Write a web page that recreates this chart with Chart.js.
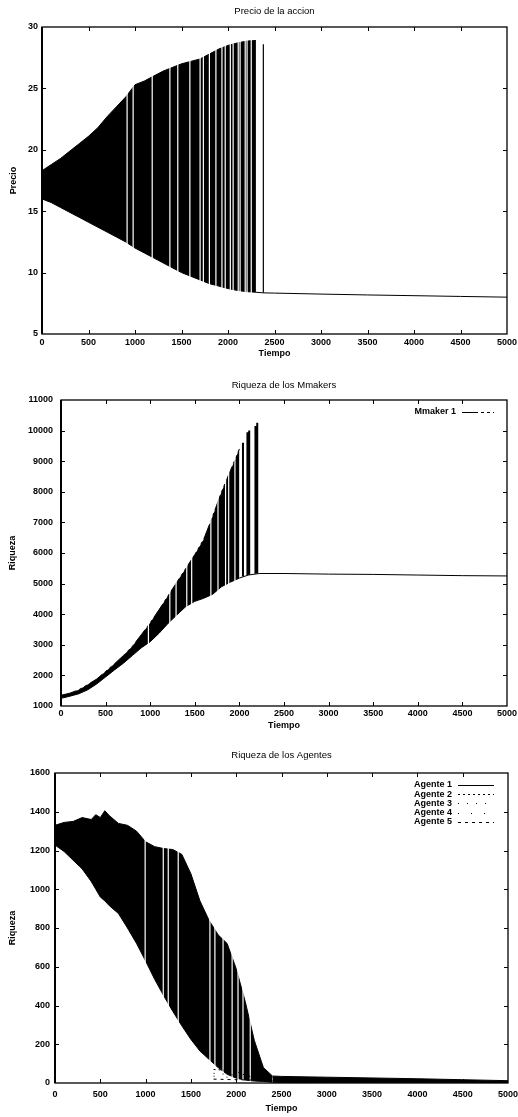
<!DOCTYPE html>
<html>
<head>
<meta charset="utf-8">
<script src="https://cdn.jsdelivr.net/npm/chart.js@4.4.1/dist/chart.umd.min.js"></script>
<style>
  html, body { margin: 0; padding: 0; background: #fff; }
  body { width: 518px; height: 1117px; position: relative; overflow: hidden; }
  canvas { position: absolute; left: 0; }
</style>
</head>
<body>
<canvas id="c1" width="518" height="362" style="top:0px"></canvas>
<canvas id="c2" width="518" height="374" style="top:362px"></canvas>
<canvas id="c3" width="518" height="381" style="top:736px"></canvas>
<script>
// ---- Shared time axis ----
const xTickVals = [0, 500, 1000, 1500, 2000, 2500, 3000, 3500, 4000, 4500, 5000];

// ---- Precio de la accion ----
const yTickVals1 = [5, 10, 15, 20, 25, 30];
const bandT1  = [0, 100, 200, 300, 400, 500, 600, 700, 800, 900, 1000, 1100, 1200, 1300, 1400, 1500, 1600, 1700, 1800, 1900, 2000, 2100, 2200, 2300];
const bandHi1 = [18.3, 18.8, 19.3, 19.9, 20.5, 21.1, 21.8, 22.7, 23.5, 24.3, 25.3, 25.6, 26.0, 26.4, 26.7, 27.0, 27.2, 27.4, 27.8, 28.2, 28.5, 28.7, 28.85, 28.9];
const bandLo1 = [16.0, 15.7, 15.3, 14.9, 14.5, 14.1, 13.7, 13.3, 12.9, 12.5, 12.0, 11.6, 11.2, 10.8, 10.4, 10.0, 9.7, 9.4, 9.1, 8.9, 8.7, 8.55, 8.45, 8.4];
const gapT1   = [915, 980, 1185, 1375, 1460, 1590, 1700, 1735, 1800, 1870, 1935, 1970, 2025, 2055, 2110, 2130, 2185, 2205, 2250];
const spikeT1  = [2380];
const spikeLo1 = [8.35];
const spikeHi1 = [28.6];
const tailT1  = [2300, 2380, 2500, 3000, 3500, 4000, 4500, 5000];
const tailV1  = [8.4, 8.35, 8.33, 8.25, 8.18, 8.12, 8.06, 8.0];

// ---- Riqueza de los Mmakers ----
const yTickVals2 = [1000, 2000, 3000, 4000, 5000, 6000, 7000, 8000, 9000, 10000, 11000];
const bandT2  = [0, 100, 200, 300, 400, 500, 600, 700, 800, 900, 1000, 1100, 1200, 1300, 1400, 1500, 1600, 1700, 1800, 1900, 2000];
const bandLo2 = [1250, 1320, 1400, 1530, 1720, 1950, 2180, 2400, 2650, 2900, 3100, 3380, 3700, 3980, 4250, 4420, 4520, 4650, 4900, 5050, 5180];
const bandHi2 = [1350, 1420, 1530, 1700, 1880, 2130, 2380, 2650, 2950, 3330, 3720, 4150, 4600, 5050, 5500, 5950, 6450, 7200, 8000, 8700, 9400];
const gapT2   = [980, 1220, 1290, 1410, 1465, 1680, 1760, 1845, 1880, 1950];
const spikeT2  = [2040, 2090, 2110, 2180, 2200];
const spikeLo2 = [5230, 5270, 5290, 5320, 5330];
const spikeHi2 = [9600, 9950, 10000, 10150, 10260];
const tailT2  = [2000, 2100, 2200, 2230, 2500, 3000, 3500, 4000, 4500, 5000];
const tailV2  = [5180, 5280, 5320, 5330, 5330, 5310, 5300, 5280, 5260, 5250];

// ---- Riqueza de los Agentes ----
const yTickVals3 = [0, 200, 400, 600, 800, 1000, 1200, 1400, 1600];
const bandT3  = [0, 100, 200, 300, 400, 450, 500, 550, 600, 700, 800, 900, 1000, 1100, 1200, 1300, 1400, 1500, 1600, 1700, 1800, 1900, 2000, 2100, 2200, 2300, 2400];
const bandHi3 = [1330, 1345, 1350, 1370, 1360, 1385, 1370, 1405, 1380, 1340, 1330, 1300, 1245, 1220, 1210, 1205, 1180, 1080, 940, 840, 765, 720, 590, 420, 220, 80, 36];
const bandLo3 = [1228, 1195, 1150, 1105, 1040, 1000, 960, 940, 915, 875, 800, 720, 630, 535, 450, 370, 295, 225, 165, 122, 80, 45, 25, 15, 10, 8, 4];
const gapT3   = [995, 1195, 1250, 1360, 1710, 1765, 1855, 1955, 2020, 2075, 2155];
// Agente 1 after the collapse: a thin band close to zero
const tail1T3  = [2400, 2500, 3000, 3500, 4000, 4500, 5000];
const tail1Hi3 = [36, 34, 30, 26, 22, 17, 12];
const tail1Lo3 = [4, 3, 2, 2, 1, 1, 0];
// remaining agents, low wealth from the late phase on
const tailT3  = [1750, 1900, 2000, 2100, 2200, 2300, 2400, 3000, 4000, 5000];
const agente2 = [70, 65, 60, 40, 35, 30, 28, 22, 15, 8];
const agente3 = [50, 45, 40, 35, 30, 25, 22, 18, 12, 6];
const agente4 = [35, 30, 28, 25, 22, 20, 18, 14, 9, 5];
const agente5 = [20, 18, 17, 16, 15, 14, 13, 10, 6, 3];

// ---- helpers ----
const FONT = 'Liberation Sans, Arial, Helvetica, sans-serif';
const pts = (ts, vs) => ts.map((t, i) => ({ x: t, y: vs[i] }));
// vertical segments, one per time, separated by breaks
function sticks(ts, lo, hi) {
  const out = [];
  ts.forEach((t, i) => {
    out.push({ x: t, y: Array.isArray(lo) ? lo[i] : lo },
             { x: t, y: Array.isArray(hi) ? hi[i] : hi },
             { x: t, y: null });
  });
  return out;
}
const lineDs = (extra) => Object.assign({
  type: 'line', borderColor: '#000', backgroundColor: '#000', borderWidth: 1,
  pointRadius: 0, tension: 0, fill: false, spanGaps: false
}, extra);

// inward tick marks on all four sides plus the plot frame
const framePlugin = {
  id: 'frame',
  afterDatasetsDraw(chart) {
    const { ctx, chartArea: a, scales: { x, y } } = chart;
    const L = 4;
    ctx.save();
    ctx.strokeStyle = '#000';
    ctx.lineWidth = 1;
    ctx.beginPath();
    x.ticks.forEach(t => {
      const px = Math.round(x.getPixelForValue(t.value)) + 0.5;
      if (px <= a.left + 1 || px >= a.right - 1) return;
      ctx.moveTo(px, a.bottom); ctx.lineTo(px, a.bottom - L);
      ctx.moveTo(px, a.top); ctx.lineTo(px, a.top + L);
    });
    y.ticks.forEach(t => {
      const py = Math.round(y.getPixelForValue(t.value)) + 0.5;
      if (py <= a.top + 1 || py >= a.bottom - 1) return;
      ctx.moveTo(a.left, py); ctx.lineTo(a.left + L, py);
      ctx.moveTo(a.right, py); ctx.lineTo(a.right - L, py);
    });
    ctx.stroke();
    ctx.lineWidth = 1.3;
    ctx.strokeRect(a.left, a.top, a.right - a.left, a.bottom - a.top);
    ctx.lineWidth = 2;
    ctx.beginPath();
    ctx.moveTo(a.left, a.top); ctx.lineTo(a.left, a.bottom);
    ctx.stroke();
    ctx.restore();
  }
};

// title centred over the plot area
const panelTitlePlugin = {
  id: 'panelTitle',
  afterDraw(chart, args, opts) {
    const { ctx, chartArea: a } = chart;
    ctx.save();
    ctx.fillStyle = '#000';
    ctx.font = '9.5px ' + FONT;
    ctx.textAlign = 'center';
    ctx.textBaseline = 'middle';
    ctx.fillText(opts.text, (a.left + a.right) / 2, opts.y);
    ctx.restore();
  }
};

// gnuplot-style key: right-aligned label followed by a line sample
const keyPlugin = {
  id: 'key',
  afterDraw(chart, args, opts) {
    if (!opts.display) return;
    const { ctx } = chart;
    ctx.save();
    ctx.font = 'bold 9px ' + FONT;
    ctx.textAlign = 'right';
    ctx.textBaseline = 'middle';
    let row = 0;
    chart.data.datasets.forEach(ds => {
      if (!ds.label) return;
      const yy = opts.top + row * opts.rowH;
      ctx.fillStyle = '#000';
      ctx.fillText(ds.label, opts.textRight, yy);
      ctx.strokeStyle = ds.borderColor || '#000';
      ctx.lineWidth = 1.2;
      ctx.setLineDash(ds.borderDash || []);
      ctx.beginPath();
      ctx.moveTo(opts.sampleFrom, Math.round(yy) + 0.5);
      ctx.lineTo(opts.sampleTo, Math.round(yy) + 0.5);
      ctx.stroke();
      ctx.setLineDash([]);
      row++;
    });
    ctx.restore();
  }
};

function scales(o) {
  return {
    x: {
      type: 'linear', min: xTickVals[0], max: xTickVals[xTickVals.length - 1],
      afterBuildTicks: s => { s.ticks = xTickVals.map(v => ({ value: v })); },
      grid: { display: false, drawTicks: false }, border: { display: false },
      ticks: { autoSkip: false, maxRotation: 0, padding: o.xPad, color: '#000',
               font: { family: FONT, size: 9, weight: 'bold' }, callback: v => String(v) },
      title: { display: true, text: 'Tiempo', color: '#000',
               font: { family: FONT, size: 9, weight: 'bold' },
               padding: { top: 0, bottom: o.xTitlePad } },
      afterFit: s => { s.height = o.xH; s.paddingLeft = 0; s.paddingRight = 0; }
    },
    y: {
      type: 'linear', min: o.yTicks[0], max: o.yTicks[o.yTicks.length - 1],
      afterBuildTicks: s => { s.ticks = o.yTicks.map(v => ({ value: v })); },
      grid: { display: false, drawTicks: false }, border: { display: false },
      ticks: { autoSkip: false, padding: o.yPad, color: '#000',
               font: { family: FONT, size: 9, weight: 'bold' }, callback: v => String(v) },
      title: { display: true, text: o.yTitle, color: '#000',
               font: { family: FONT, size: 9, weight: 'bold' },
               padding: { top: o.yTitlePad, bottom: 0 } },
      afterFit: s => { s.width = o.yW; s.paddingTop = 0; s.paddingBottom = 0; }
    }
  };
}

function baseOptions(o) {
  return {
    responsive: false, animation: false, events: [],
    layout: { autoPadding: false, padding: { left: 0, right: o.padR, top: o.padT, bottom: 0 } },
    scales: scales(o),
    plugins: {
      legend: { display: false }, tooltip: { enabled: false }, title: { display: false },
      panelTitle: { text: o.title, y: o.titleY },
      key: o.key || { display: false }
    }
  };
}

// ---- Chart 1: Precio de la accion ----
new Chart(document.getElementById('c1'), {
  type: 'line',
  data: { datasets: [
    lineDs({ data: pts(tailT1, tailV1), order: 1 }),
    lineDs({ data: sticks(spikeT1, spikeLo1, spikeHi1), borderWidth: 1.2, order: 2 }),
    lineDs({ data: sticks(gapT1, yTickVals1[0], yTickVals1[yTickVals1.length - 1]), borderColor: '#fff', borderWidth: 1.2, order: 3 }),
    lineDs({ data: pts(bandT1, bandHi1), fill: '+1', order: 5 }),
    lineDs({ data: pts(bandT1, bandLo1), order: 5 })
  ] },
  options: baseOptions({ yTicks: yTickVals1, yTitle: 'Precio', title: 'Precio de la accion',
    titleY: 11, padT: 27, padR: 11, yW: 42, xH: 28, xPad: 3, yPad: 4, xTitlePad: 3, yTitlePad: 8 }),
  plugins: [framePlugin, panelTitlePlugin, keyPlugin]
});

// ---- Chart 2: Riqueza de los Mmakers ----
new Chart(document.getElementById('c2'), {
  type: 'line',
  data: { datasets: [
    lineDs({ label: 'Mmaker 1', data: pts(bandT2, bandHi2), fill: '+1', borderDash: [16, 3, 3, 3, 3, 3], order: 5 }),
    lineDs({ data: pts(bandT2, bandLo2), order: 5 }),
    lineDs({ data: pts(tailT2, tailV2), order: 1 }),
    lineDs({ data: sticks(spikeT2, spikeLo2, spikeHi2), borderWidth: 2, order: 2 }),
    lineDs({ data: sticks(gapT2, yTickVals2[0], yTickVals2[yTickVals2.length - 1]), borderColor: '#fff', borderWidth: 1.2, order: 3 })
  ] },
  options: baseOptions({ yTicks: yTickVals2, yTitle: 'Riqueza', title: 'Riqueza de los Mmakers',
    titleY: 23, padT: 38, padR: 11, yW: 61, xH: 30, xPad: 2, yPad: 8, xTitlePad: 5, yTitlePad: 7,
    key: { display: true, top: 50, rowH: 9.2, textRight: 456, sampleFrom: 462, sampleTo: 494 } }),
  plugins: [framePlugin, panelTitlePlugin, keyPlugin]
});

// ---- Chart 3: Riqueza de los Agentes ----
new Chart(document.getElementById('c3'), {
  type: 'line',
  data: { datasets: [
    lineDs({ label: 'Agente 1', data: pts(bandT3, bandHi3), fill: '+1', order: 5 }),
    lineDs({ data: pts(bandT3, bandLo3), order: 5 }),
    lineDs({ label: 'Agente 2', data: pts(tailT3, agente2), borderDash: [2, 3], order: 1 }),
    lineDs({ label: 'Agente 3', data: pts(tailT3, agente3), borderDash: [1, 8], order: 1 }),
    lineDs({ label: 'Agente 4', data: pts(tailT3, agente4), borderDash: [1, 12], order: 1 }),
    lineDs({ label: 'Agente 5', data: pts(tailT3, agente5), borderDash: [3, 4], order: 1 }),
    lineDs({ data: pts(tail1T3, tail1Hi3), fill: '+1', order: 4 }),
    lineDs({ data: pts(tail1T3, tail1Lo3), order: 4 }),
    lineDs({ data: sticks(gapT3, yTickVals3[0], yTickVals3[yTickVals3.length - 1]), borderColor: '#fff', borderWidth: 1.2, order: 3 })
  ] },
  options: baseOptions({ yTicks: yTickVals3, yTitle: 'Riqueza', title: 'Riqueza de los Agentes',
    titleY: 19, padT: 37, padR: 10, yW: 55, xH: 34, xPad: 6, yPad: 5, xTitlePad: 3, yTitlePad: 7,
    key: { display: true, top: 49, rowH: 9.2, textRight: 452, sampleFrom: 458, sampleTo: 494 } }),
  plugins: [framePlugin, panelTitlePlugin, keyPlugin]
});
</script>
</body>
</html>
